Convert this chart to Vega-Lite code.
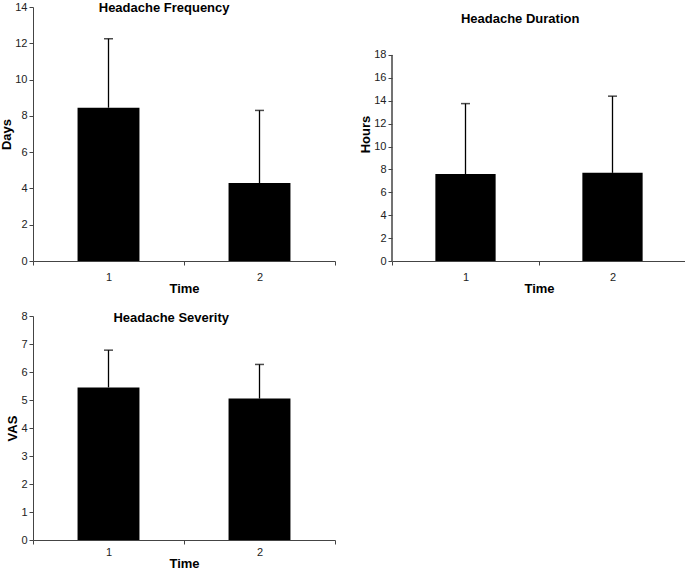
{
  "$schema": "https://vega.github.io/schema/vega-lite/v6.json",
  "padding": {"left": 0, "top": 1, "right": 2, "bottom": 0},
  "background": "white",
  "config": {
    "font": "Liberation Sans",
    "view": {"stroke": null},
    "axis": {
      "labelFont": "Liberation Sans",
      "labelFontSize": 11,
      "labelColor": "#222",
      "titleFont": "Liberation Sans",
      "titleFontSize": 13,
      "titleFontWeight": "bold",
      "titleColor": "#000",
      "domainColor": "#444",
      "tickColor": "#444",
      "grid": false,
      "tickSize": 4
    },
    "axisY": {"titlePadding": 1},
    "title": {"font": "Liberation Sans", "fontSize": 13, "fontWeight": "bold", "color": "#000", "frame": "bounds"}
  },
  "datasets": {
    "freq": [
      {"Time": "1", "mean": 8.45, "upper": 12.25},
      {"Time": "2", "mean": 4.3, "upper": 8.3}
    ],
    "dur": [
      {"Time": "1", "mean": 7.6, "upper": 13.75},
      {"Time": "2", "mean": 7.7, "upper": 14.4}
    ],
    "sev": [
      {"Time": "1", "mean": 5.45, "upper": 6.78},
      {"Time": "2", "mean": 5.05, "upper": 6.27}
    ]
  },
  "spacing": 15,
  "vconcat": [
    {
      "spacing": 23,
      "hconcat": [
        {
          "width": 302,
          "height": 254,
          "title": {"text": "Headache Frequency", "offset": -14, "dx": -4},
          "data": {"name": "freq"},
          "encoding": {
            "x": {"field": "Time", "type": "ordinal", "scale": {"paddingInner": 0, "paddingOuter": 0}, "axis": {"labelAngle": 0, "tickBand": "extent", "title": "Time", "labelPadding": 6, "titlePadding": 0}},
            "y": {"field": "mean", "type": "quantitative", "scale": {"domain": [0, 14]}, "axis": {"values": [0, 2, 4, 6, 8, 10, 12, 14], "title": "Days"}}
          },
          "layer": [
            {"mark": {"type": "rule", "color": "#000", "strokeWidth": 1.3}, "encoding": {"y2": {"field": "upper"}}},
            {"mark": {"type": "bar", "color": "#000", "width": {"band": 0.41}}},
            {"mark": {"type": "tick", "color": "#000", "size": 9, "thickness": 1.5}, "encoding": {"y": {"field": "upper", "type": "quantitative"}}}
          ]
        },
        {
          "width": 294,
          "height": 254,
          "title": {"text": "Headache Duration", "offset": -19, "dx": -3},
          "data": {"name": "dur"},
          "encoding": {
            "x": {"field": "Time", "type": "ordinal", "scale": {"paddingInner": 0, "paddingOuter": 0}, "axis": {"labelAngle": 0, "tickBand": "extent", "title": "Time", "labelPadding": 6, "titlePadding": 0}},
            "y": {"field": "mean", "type": "quantitative", "scale": {"domain": [0, 22.19], "nice": false}, "axis": {"values": [0, 2, 4, 6, 8, 10, 12, 14, 16, 18], "title": "Hours", "domain": false}}
          },
          "layer": [
            {"mark": {"type": "rule", "color": "#000", "strokeWidth": 1.3}, "encoding": {"y2": {"field": "upper"}}},
            {"mark": {"type": "bar", "color": "#000", "width": {"band": 0.41}}},
            {"mark": {"type": "tick", "color": "#000", "size": 9, "thickness": 1.5}, "encoding": {"y": {"field": "upper", "type": "quantitative", "scale": {"domain": [0, 22.19], "nice": false}, "axis": {"values": [0, 2, 4, 6, 8, 10, 12, 14, 16, 18], "title": "Hours", "domain": false}}}},
            {
              "mark": {"type": "rule", "color": "#444", "strokeWidth": 1},
              "encoding": {
                "x": {"datum": "1", "type": "ordinal", "bandPosition": 0},
                "y": {"datum": 0, "type": "quantitative", "scale": {"domain": [0, 22.19], "nice": false}, "axis": {"values": [0, 2, 4, 6, 8, 10, 12, 14, 16, 18], "title": "Hours", "domain": false}},
                "y2": {"datum": 18}
              }
            }
          ]
        }
      ]
    },
    {
      "width": 302,
      "height": 224,
      "title": {"text": "Headache Severity", "offset": -15},
      "data": {"name": "sev"},
      "encoding": {
        "x": {"field": "Time", "type": "ordinal", "scale": {"paddingInner": 0, "paddingOuter": 0}, "axis": {"labelAngle": 0, "tickBand": "extent", "title": "Time", "titlePadding": 0}},
        "y": {"field": "mean", "type": "quantitative", "scale": {"domain": [0, 8]}, "axis": {"values": [0, 1, 2, 3, 4, 5, 6, 7, 8], "title": "VAS"}}
      },
      "layer": [
        {"mark": {"type": "rule", "color": "#000", "strokeWidth": 1.3}, "encoding": {"y2": {"field": "upper"}}},
        {"mark": {"type": "bar", "color": "#000", "width": {"band": 0.41}}},
        {"mark": {"type": "tick", "color": "#000", "size": 9, "thickness": 1.5}, "encoding": {"y": {"field": "upper", "type": "quantitative"}}}
      ]
    }
  ]
}
